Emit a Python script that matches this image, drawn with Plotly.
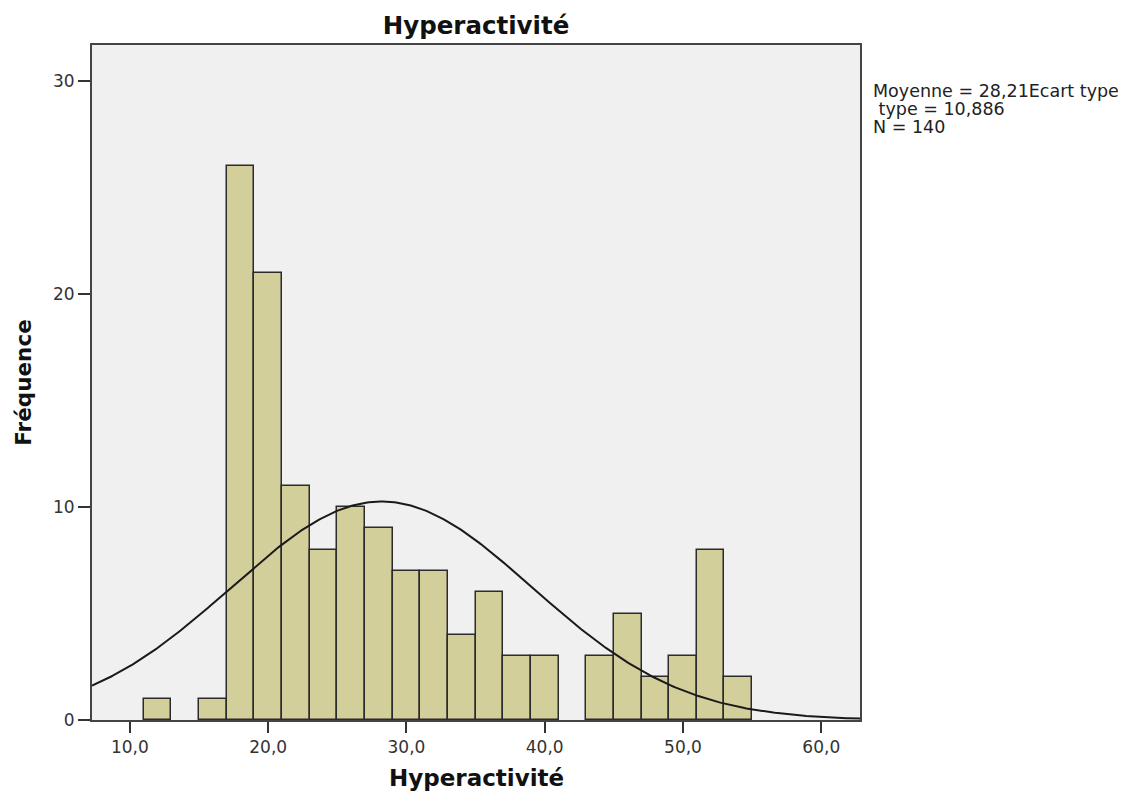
import numpy as np
import plotly.graph_objects as go

# Histogram data (bin centers, width 2)
bin_centers = [12, 16, 18, 20, 22, 24, 26, 28, 30, 32, 34, 36, 38, 40, 44, 46, 48, 50, 52, 54]
counts = [1, 1, 26, 21, 11, 8, 10, 9, 7, 7, 4, 6, 3, 3, 3, 5, 2, 3, 8, 2]
bin_width = 2.0

mean = 28.21
sd = 10.886
n = 140

x_ticks = [10, 20, 30, 40, 50, 60]
x_tick_labels = ["10,0", "20,0", "30,0", "40,0", "50,0", "60,0"]
y_ticks = [0, 10, 20, 30]
y_tick_labels = ["0", "10", "20", "30"]

stats_lines = ["Moyenne = 28,21Ecart type", " type = 10,886", "N = 140"]

x_range = [7.26, 62.8]
y_range = [0, 31.7]

# Normal curve from the reported statistics
xc = np.linspace(x_range[0], x_range[1], 400)
yc = n * bin_width / (sd * np.sqrt(2 * np.pi)) * np.exp(-0.5 * ((xc - mean) / sd) ** 2)

fig = go.Figure()
fig.add_trace(go.Bar(
    x=bin_centers, y=counts, width=bin_width,
    marker=dict(color="#d3cf9a", line=dict(color="#2b2b2b", width=1.5)),
    showlegend=False, hoverinfo="x+y",
))
fig.add_trace(go.Scatter(
    x=xc, y=yc, mode="lines",
    line=dict(color="#1a1a1a", width=2),
    showlegend=False, hoverinfo="skip",
))

font_family = "DejaVu Sans, Verdana, sans-serif"

# page has an 8px body margin; figure sized to compensate
W, H = 1110, 783
L, R, T, B = 84, 258, 37, 71
plot_top_px, plot_bot_px = 45, 720


def py_to_paper(py):
    return (plot_bot_px - py) / (plot_bot_px - plot_top_px)


annotations = []
line_centers = [91, 109, 127]
for txt, cy in zip(stats_lines, line_centers):
    annotations.append(dict(
        xref="paper", yref="paper",
        x=(871 - 92) / (860 - 92), y=py_to_paper(cy),
        xanchor="left", yanchor="middle", align="left", showarrow=False,
        text=txt.replace(" ", "&nbsp;") if txt.startswith(" ") else txt,
        font=dict(size=17.5, color="#222222", family=font_family),
    ))

# x-axis title placed as annotation for exact vertical placement
annotations.append(dict(
    xref="paper", yref="paper", x=0.5, y=py_to_paper(778),
    xanchor="center", yanchor="middle", showarrow=False,
    text="<b>Hyperactivité</b>",
    font=dict(size=23, color="#111111", family=font_family),
))

fig.update_layout(
    width=W, height=H,
    margin=dict(l=L, r=R, t=T, b=B),
    paper_bgcolor="white",
    plot_bgcolor="#f0f0f0",
    bargap=0,
    font=dict(family=font_family, size=17, color="#222222"),
    title=dict(text="<b>Hyperactivité</b>", x=(L + (W - R)) / 2 / W, xanchor="center",
               y=1 - 17 / H, yanchor="middle",
               font=dict(size=24.5, color="#111111", family=font_family)),
    xaxis=dict(
        range=x_range, tickmode="array", tickvals=x_ticks, ticktext=x_tick_labels,
        ticks="outside", ticklen=11, tickwidth=2, tickcolor="#333333",
        showgrid=False, zeroline=False, automargin=False,
        showline=True, linecolor="#444444", linewidth=2, mirror=True,
        tickfont=dict(size=17, color="#333333"),
    ),
    yaxis=dict(
        range=y_range, tickmode="array", tickvals=y_ticks, ticktext=y_tick_labels,
        ticks="outside", ticklen=12, tickwidth=2, tickcolor="#333333",
        showgrid=False, zeroline=False, automargin=False,
        showline=True, linecolor="#444444", linewidth=2, mirror=True,
        tickfont=dict(size=17, color="#333333"),
        title=dict(text="<b>Fréquence</b>", font=dict(size=21.5, color="#111111"), standoff=15),
    ),
    annotations=annotations,
)

fig.write_html("out.html")
